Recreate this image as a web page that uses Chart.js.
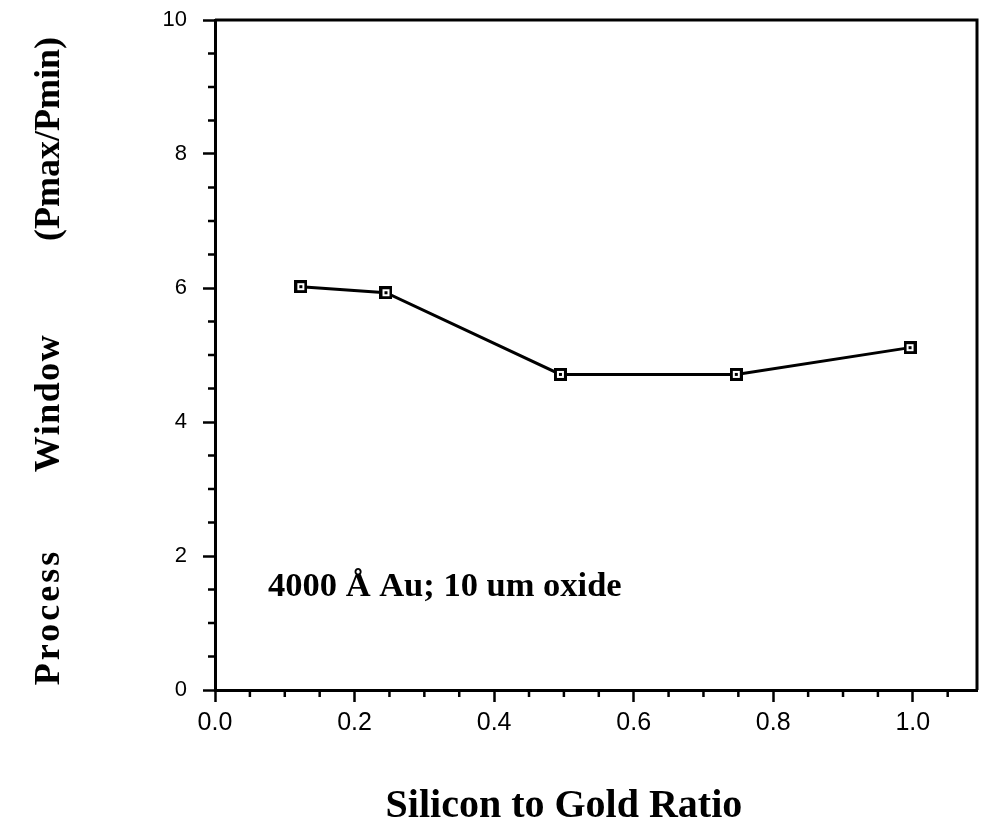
<!DOCTYPE html>
<html>
<head>
<meta charset="utf-8">
<script src="https://cdn.jsdelivr.net/npm/chart.js@4.4.1/dist/chart.umd.min.js"></script>
<style>
  html, body { margin: 0; padding: 0; background: #fff; }
  #chart { display: block; }
</style>
</head>
<body>
<canvas id="chart" width="981" height="831"></canvas>
<script>
// values
const ratios = [0.123, 0.245, 0.495, 0.747, 0.996];
const windowRatio = [6.02, 5.93, 4.71, 4.71, 5.11];
const xTickValues = [0, 0.2, 0.4, 0.6, 0.8, 1.0];
const yTickValues = [0, 2, 4, 6, 8, 10];

const xTitle = "Silicon to Gold Ratio";
const yTitleWords = ["Process", "Window", "(Pmax/Pmin)"];
const note = "4000 \u00C5 Au; 10 um oxide";

const serif = '"Liberation Serif", "Times New Roman", serif';
const sans = '"Liberation Sans", Arial, sans-serif';

// open square with a dot in the middle, like the plotter's marker
function makeMarker() {
  const c = document.createElement("canvas");
  c.width = 13;
  c.height = 13;
  const g = c.getContext("2d");
  g.fillStyle = "#fff";
  g.fillRect(0, 0, 13, 13);
  g.strokeStyle = "#000";
  g.lineWidth = 3;
  g.strokeRect(1.5, 1.5, 10, 10);
  g.fillStyle = "#000";
  g.fillRect(5, 5, 3, 3);
  return c;
}

function fixedTicks(values) {
  return (scale) => {
    scale.ticks = values.map((v) => ({ value: v }));
  };
}

const decorations = {
  id: "decorations",
  afterDraw(chart) {
    const { ctx, chartArea: a } = chart;
    const x = chart.scales.x;
    const y = chart.scales.y;
    ctx.save();
    ctx.strokeStyle = "#000";

    // frame top and right
    ctx.lineWidth = 3;
    ctx.beginPath();
    ctx.moveTo(a.left, a.top);
    ctx.lineTo(a.right, a.top);
    ctx.lineTo(a.right, a.bottom);
    ctx.stroke();

    // minor ticks
    ctx.lineWidth = 2.5;
    ctx.beginPath();
    for (let i = 1; i <= 21; i++) {
      if (i % 4 === 0) continue;
      const px = x.getPixelForValue(i * 0.05);
      if (px > a.right - 2) continue;
      ctx.moveTo(px, a.bottom);
      ctx.lineTo(px, a.bottom + 7);
    }
    for (let i = 1; i < 20; i++) {
      if (i % 4 === 0) continue;
      const py = y.getPixelForValue(i * 0.5);
      ctx.moveTo(a.left, py);
      ctx.lineTo(a.left - 7, py);
    }
    ctx.stroke();

    ctx.fillStyle = "#000";

    // note inside the plot
    ctx.font = "bold 34.5px " + serif;
    ctx.textAlign = "left";
    ctx.textBaseline = "alphabetic";
    ctx.fillText(note, x.getPixelForValue(0.076), y.getPixelForValue(1.4));

    // x axis title
    ctx.font = "bold 40px " + serif;
    ctx.textAlign = "center";
    ctx.fillText(xTitle, x.getPixelForValue(0.5), 817);

    // y axis title, words spread out along the axis
    const wordCenters = [617, 403, 139];
    const spacing = ["3px", "1.5px", "0px"];
    ctx.translate(59, 0);
    ctx.rotate(-Math.PI / 2);
    ctx.font = "bold 36px " + serif;
    yTitleWords.forEach((w, i) => {
      ctx.letterSpacing = spacing[i];
      ctx.fillText(w, -wordCenters[i], 0);
    });
    ctx.restore();
  },
};

new Chart(document.getElementById("chart"), {
  type: "scatter",
  data: {
    datasets: [
      {
        data: ratios.map((r, i) => ({ x: r, y: windowRatio[i] })),
        showLine: true,
        borderColor: "#000",
        borderWidth: 3,
        pointStyle: makeMarker(),
        pointRadius: 6,
        clip: false,
      },
    ],
  },
  options: {
    responsive: false,
    animation: false,
    events: [],
    layout: { autoPadding: false, padding: { top: 20, right: 4, left: 0, bottom: 0 } },
    plugins: { legend: { display: false }, tooltip: { enabled: false } },
    scales: {
      x: {
        type: "linear",
        min: 0,
        max: 1.092,
        afterBuildTicks: fixedTicks(xTickValues),
        afterFit: (s) => {
          s.height = 141;
          s.paddingLeft = 0;
          s.paddingRight = 0;
        },
        border: { display: true, color: "#000", width: 3 },
        grid: { drawOnChartArea: false, drawTicks: true, tickLength: 12, tickWidth: 2.5, tickColor: "#000" },
        ticks: {
          color: "#000",
          padding: 6,
          maxRotation: 0,
          font: { family: sans, size: 25 },
          callback: (v) => Number(v).toFixed(1),
        },
      },
      y: {
        type: "linear",
        min: 0,
        max: 10,
        afterBuildTicks: fixedTicks(yTickValues),
        afterFit: (s) => {
          s.width = 215;
          s.paddingTop = 0;
          s.paddingBottom = 0;
        },
        border: { display: true, color: "#000", width: 3 },
        grid: { drawOnChartArea: false, drawTicks: true, tickLength: 12, tickWidth: 2.5, tickColor: "#000" },
        ticks: {
          color: "#000",
          padding: 16,
          font: { family: sans, size: 22 },
          callback: (v) => String(v),
        },
      },
    },
  },
  plugins: [decorations],
});
</script>
</body>
</html>
